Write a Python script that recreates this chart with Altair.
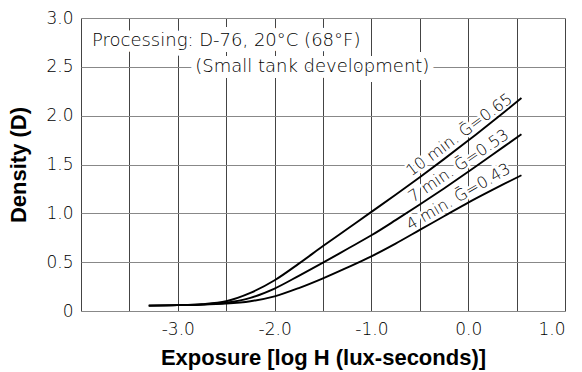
import altair as alt
import pandas as pd

# Data
x_vals = [-3.3, -3.0, -2.75, -2.5, -2.25, -2.0, -1.75, -1.5, -1.25, -1.0, -0.75, -0.5, -0.25, 0.0, 0.25, 0.55]
d_10min = [0.055, 0.06, 0.07, 0.10, 0.185, 0.315, 0.485, 0.665, 0.84, 1.015, 1.19, 1.37, 1.555, 1.745, 1.94, 2.18]
d_7min = [0.055, 0.06, 0.068, 0.085, 0.135, 0.23, 0.36, 0.495, 0.635, 0.775, 0.93, 1.09, 1.255, 1.425, 1.60, 1.81]
d_4min = [0.055, 0.06, 0.064, 0.075, 0.10, 0.15, 0.235, 0.335, 0.445, 0.56, 0.69, 0.83, 0.97, 1.11, 1.24, 1.39]

series_names = ["10 min", "7 min", "4 min"]
series_values = [d_10min, d_7min, d_4min]

label_texts = ["10 min. Ḡ=0.65", "7 min. Ḡ=0.53", "4 min. Ḡ=0.43"]
label_x = [-0.03, -0.04, -0.05]
label_y = [1.72, 1.40, 1.08]
label_angle = [323.5, 326, 330]

note_lines = ["Processing: D-76, 20°C (68°F)", "(Small tank development)"]
note_x = [-3.887, -2.82]
note_y = [2.76, 2.50]

x_ticks = [-4.0, -3.5, -3.0, -2.5, -2.0, -1.5, -1.0, -0.5, 0.0, 0.5, 1.0]
y_ticks = [0.0, 0.5, 1.0, 1.5, 2.0, 2.5, 3.0]

rows = []
for name, vals in zip(series_names, series_values):
    for i, (xv, yv) in enumerate(zip(x_vals, vals)):
        rows.append({"series": name, "x": xv, "y": yv, "order": i})
curves = pd.DataFrame(rows)

labels = pd.DataFrame({"text": label_texts, "x": label_x, "y": label_y, "angle": label_angle})
notes = pd.DataFrame({"text": note_lines, "x": note_x, "y": note_y})

LABEL_FONT = "DejaVu Sans"
TITLE_FONT = "Liberation Sans"
LIGHT = 200

xscale = alt.Scale(domain=[-4, 1], nice=False, zero=False)
yscale = alt.Scale(domain=[0, 3], nice=False)

xaxis = alt.Axis(
    values=x_ticks,
    labelExpr="datum.value == -4 || (datum.value % 1 != 0) ? '' : replace(format(datum.value, '.1f'), '\u2212', '-')",
    grid=True, gridColor="#444444", gridWidth=1, ticks=False, domain=False,
    labelFont=LABEL_FONT, labelFontSize=17, labelFontWeight=LIGHT, labelColor="#000000", labelPadding=10,
    title="Exposure [log H (lux-seconds)]", titleFont=TITLE_FONT, titleFontSize=22,
    titleFontWeight="bold", titleColor="#000000", titlePadding=10,
)
yaxis = alt.Axis(
    values=y_ticks,
    labelExpr="datum.value == 0 ? '0' : format(datum.value, '.1f')",
    grid=True, gridColor="#888888", gridWidth=1, ticks=False, domain=False,
    labelFont=LABEL_FONT, labelFontSize=17, labelFontWeight=LIGHT, labelColor="#000000", labelPadding=8,
    title="Density (D)", titleFont=TITLE_FONT, titleFontSize=22,
    titleFontWeight="bold", titleColor="#000000", titlePadding=15,
)

enc_xy = dict(x=alt.X("x:Q", scale=xscale), y=alt.Y("y:Q", scale=yscale))

base_lines = alt.Chart(curves).mark_line(color="black", strokeWidth=1.9, interpolate="catmull-rom").encode(
    x=alt.X("x:Q", scale=xscale, axis=xaxis),
    y=alt.Y("y:Q", scale=yscale, axis=yaxis),
    detail="series:N",
    order="order:Q",
)

label_style = dict(font=LABEL_FONT, fontSize=16, fontWeight=LIGHT, align="center", baseline="alphabetic", dy=-5)

label_halo = alt.Chart(labels).mark_text(
    stroke="white", strokeWidth=5, color="white", **label_style
).encode(text="text:N", angle=alt.Angle("angle:Q", scale=None), **enc_xy)

label_text = alt.Chart(labels).mark_text(color="#000000", **label_style).encode(
    text="text:N", angle=alt.Angle("angle:Q", scale=None), **enc_xy
)

note_style = dict(font=LABEL_FONT, fontSize=18, fontWeight=LIGHT, align="left", baseline="middle")

note_halo = alt.Chart(notes).mark_text(stroke="white", strokeWidth=12, color="white", **note_style).encode(
    text="text:N", **enc_xy
)

note_text = alt.Chart(notes).mark_text(color="#000000", **note_style).encode(text="text:N", **enc_xy)

chart = alt.layer(note_halo, label_halo, base_lines, note_text, label_text).properties(
    width=484, height=293,
    autosize=alt.AutoSizeParams(type="none"),
    padding={"left": 81, "top": 18, "right": 17, "bottom": 61},
).configure_view(stroke="#777777", strokeWidth=1).configure(background="white")

chart.save("out.html", embed_options={"renderer": "svg", "actions": False})
